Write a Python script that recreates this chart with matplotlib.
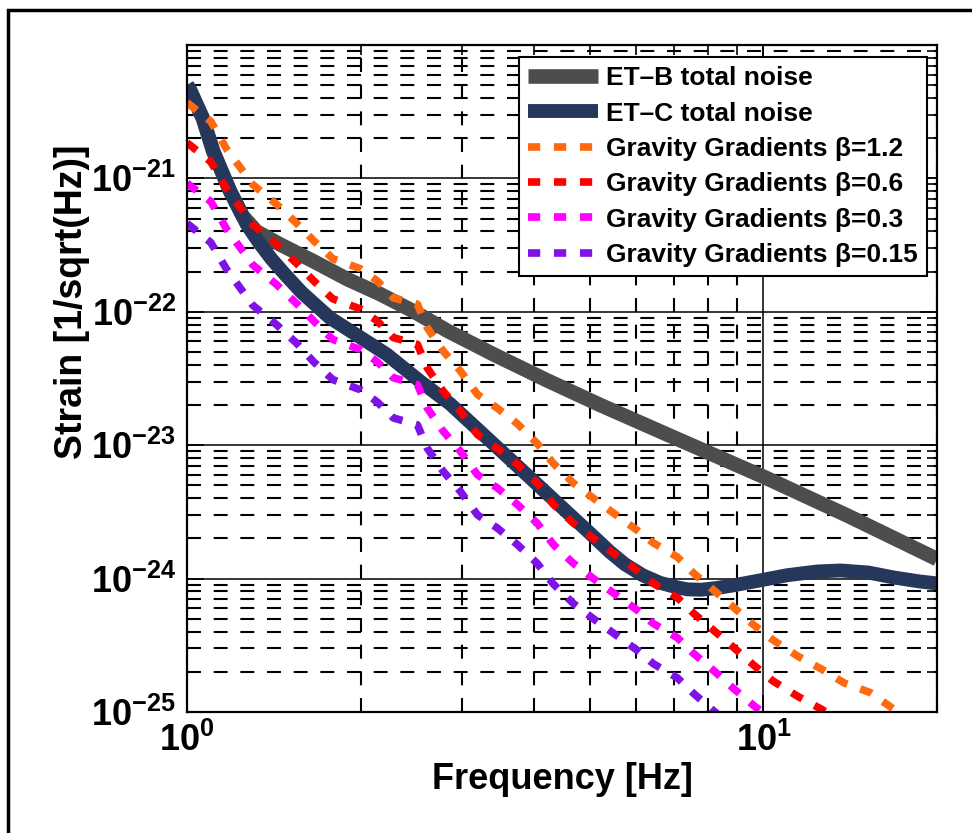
import matplotlib
matplotlib.use("Agg")
import matplotlib.pyplot as plt
import numpy as np
from matplotlib.patches import Rectangle
from matplotlib.ticker import LogLocator, FuncFormatter, NullFormatter

plt.rcParams['font.family'] = ['Liberation Sans', 'DejaVu Sans']
plt.rcParams['font.weight'] = 'bold'
plt.rcParams['mathtext.fontset'] = 'custom'
plt.rcParams['mathtext.rm'] = 'Liberation Sans:bold'
plt.rcParams['mathtext.bf'] = 'Liberation Sans:bold'
plt.rcParams['mathtext.it'] = 'Liberation Sans:bold'

# ET-B total noise
etb_f = [1.0, 1.012, 1.066, 1.11, 1.188, 1.25, 1.32, 1.45, 1.655, 1.9, 2.16,
         2.47, 2.83, 3.4, 4.2, 5.21, 7.0, 10.0, 14.0, 20.0]
etb_h = [5.0e-21, 4.6e-21, 2.8e-21, 1.6e-21, 8.0e-22, 5.2e-22, 4.0e-22, 3.2e-22,
         2.4e-22, 1.75e-22, 1.36e-22, 1.01e-22, 7.2e-23, 4.8e-23, 3.08e-23, 2.0e-23,
         1.14e-23, 5.8e-24, 2.96e-24, 1.4e-24]

# ET-C total noise
etc_f = [1.0, 1.012, 1.066, 1.11, 1.188, 1.27, 1.33, 1.40, 1.48, 1.58, 1.77,
         2.22, 2.54, 2.86, 3.26, 3.99, 4.57, 5.07, 5.4, 5.75, 6.17, 6.61, 7.08,
         7.38, 7.8, 8.3, 8.87, 9.88, 11.0, 12.4, 13.6, 15.2, 16.8, 18.7, 20.0]
etc_h = [5.0e-21, 4.6e-21, 2.8e-21, 1.6e-21, 8.0e-22, 4.5e-22, 3.35e-22, 2.5e-22,
         1.9e-22, 1.4e-22, 9.0e-23, 4.8e-23, 3.0e-23, 2.04e-23, 1.21e-23, 5.4e-24,
         3.13e-24, 2.07e-24, 1.6e-24, 1.28e-24, 1.06e-24, 9.3e-25, 8.6e-25,
         8.3e-25, 8.25e-25, 8.5e-25, 8.9e-25, 9.7e-25, 1.06e-24, 1.13e-24, 1.15e-24,
         1.11e-24, 1.02e-24, 9.5e-25, 9.2e-25]

# gravity gradient curves (same frequency grid)
gg_f = [1.0, 1.1, 1.17, 1.3, 1.43, 1.55, 1.66, 1.79, 2.0, 2.14, 2.28, 2.51, 2.61,
        2.78, 2.98, 3.19, 3.45, 3.74, 4.05, 4.32, 4.68, 5.07, 5.49, 6.04, 6.44,
        7.09, 7.56, 8.19, 8.87, 9.61, 10.4, 11.5, 12.6, 13.8, 15.3, 17.1, 20.0]
gg_12 = [3.7e-21, 2.67e-21, 1.67e-21, 9.0e-22, 6.4e-22, 4.6e-22, 3.4e-22, 2.5e-22,
         2.1e-22, 1.7e-22, 1.27e-22, 1.14e-22, 7.6e-23, 5.1e-23, 3.6e-23, 2.4e-23,
         1.9e-23, 1.45e-23, 1.03e-23, 7.3e-24, 5.2e-24, 4.0e-24, 3.1e-24, 2.3e-24,
         1.85e-24, 1.45e-24, 1.1e-24, 8.2e-25, 6.1e-25, 4.5e-25, 3.45e-25, 2.6e-25,
         2.1e-25, 1.65e-25, 1.4e-25, 1.0e-25, 6.3e-26]
gg_06 = [1.85e-21, 1.33e-21, 8.4e-22, 4.5e-22, 3.2e-22, 2.3e-22, 1.7e-22, 1.25e-22,
         1.05e-22, 8.5e-23, 6.4e-23, 5.7e-23, 3.8e-23, 2.55e-23, 1.8e-23, 1.2e-23,
         9.5e-24, 7.2e-24, 5.2e-24, 3.6e-24, 2.6e-24, 2.0e-24, 1.55e-24, 1.15e-24,
         9.2e-25, 7.2e-25, 5.5e-25, 4.1e-25, 3.05e-25, 2.25e-25, 1.7e-25, 1.3e-25,
         1.05e-25, 8.2e-26, 7.0e-26, 5.0e-26, 3.2e-26]
gg_03 = [9.2e-22, 6.7e-22, 4.2e-22, 2.25e-22, 1.6e-22, 1.15e-22, 8.5e-23, 6.2e-23,
         5.2e-23, 4.2e-23, 3.2e-23, 2.85e-23, 1.9e-23, 1.28e-23, 9.0e-24, 6.0e-24,
         4.8e-24, 3.6e-24, 2.6e-24, 1.8e-24, 1.3e-24, 1.0e-24, 7.8e-25, 5.8e-25,
         4.6e-25, 3.6e-25, 2.75e-25, 2.05e-25, 1.5e-25, 1.12e-25, 8.6e-26, 6.5e-26,
         5.2e-26, 4.1e-26, 3.5e-26, 2.5e-26, 1.6e-26]
gg_015 = [4.6e-22, 3.3e-22, 2.1e-22, 1.12e-22, 8.0e-23, 5.8e-23, 4.2e-23, 3.1e-23,
          2.6e-23, 2.1e-23, 1.6e-23, 1.42e-23, 9.5e-24, 6.4e-24, 4.5e-24, 3.0e-24,
          2.4e-24, 1.8e-24, 1.3e-24, 9.1e-25, 6.5e-25, 5.0e-25, 3.9e-25, 2.9e-25,
          2.3e-25, 1.8e-25, 1.38e-25, 1.02e-25, 7.6e-26, 5.6e-26, 4.3e-26, 3.2e-26,
          2.6e-26, 2.1e-26, 1.75e-26, 1.25e-26, 8.0e-27]

gg_series = [(gg_12, '#ff6a10', 'Gravity Gradients β=1.2'),
             (gg_06, '#ff0000', 'Gravity Gradients β=0.6'),
             (gg_03, '#ff00ff', 'Gravity Gradients β=0.3'),
             (gg_015, '#7f12e6', 'Gravity Gradients β=0.15')]

x_major = [1, 10]
y_major = [1e-25, 1e-24, 1e-23, 1e-22, 1e-21]

fig = plt.figure(figsize=(9.72, 8.33), dpi=100)
ax = fig.add_axes([0.1924, 0.1453, 0.7716, 0.8007])

ax.plot(etb_f, etb_h, color='#4d4d4d', lw=10.5, solid_capstyle='butt',
        label='ET–B total noise')
ax.plot(etc_f, etc_h, color='#26375c', lw=10, solid_capstyle='butt',
        solid_joinstyle='round', label='ET–C total noise')
for h, c, lab in gg_series:
    ax.plot(gg_f, h, color=c, lw=5.5, ls=(0, (1.6, 1.8)), label=lab)

ax.set_xscale('log')
ax.set_yscale('log')
ax.set_xlim(1, 20)
ax.set_ylim(1e-25, 1e-20)

ax.set_xticks(x_major)
ax.set_yticks(y_major)
fmt = FuncFormatter(lambda v, p: r'$\mathbf{10^{%d}}$' % int(round(np.log10(v))))
for axis in (ax.xaxis, ax.yaxis):
    axis.set_minor_locator(LogLocator(base=10, subs=np.arange(2, 10), numticks=100))
    axis.set_minor_formatter(NullFormatter())
    axis.set_major_formatter(fmt)
ax.set_xlim(1, 20)
ax.set_ylim(1e-25, 1e-20)

ax.set_axisbelow(True)
ax.grid(which='major', ls='-', color='k', lw=1.1)
ax.grid(which='minor', ls=(0, (6.7, 6.1)), color='k', lw=1.5)
ax.tick_params(which='both', direction='in', top=True, right=True, labelsize=26,
               width=1.2, colors='k')
ax.tick_params(which='major', length=12, pad=8)
ax.tick_params(which='minor', length=7)
for s in ax.spines.values():
    s.set_linewidth(1.6)

ax.set_xlabel('Frequency [Hz]', fontsize=26, fontweight='bold')
ax.set_ylabel('Strain [1/sqrt(Hz)]', fontsize=27, fontweight='bold')
ax.xaxis.set_label_coords(0.5, -0.075)
ax.yaxis.set_label_coords(-0.13, 0.615)

leg = ax.legend(loc='upper right', bbox_to_anchor=(0.987, 0.982), borderaxespad=0,
                fontsize=19, handlelength=2.65, handletextpad=0.3,
                labelspacing=0.43, borderpad=0.35, fancybox=False, framealpha=1,
                edgecolor='k')
leg.get_frame().set_linewidth(1.5)

fig.patches.append(Rectangle((8 / 972, -0.1), 1.2, 1.1 - 10 / 833, fill=False,
                             lw=2.5, ec='black', transform=fig.transFigure))

fig.savefig('out.png', dpi=100)
